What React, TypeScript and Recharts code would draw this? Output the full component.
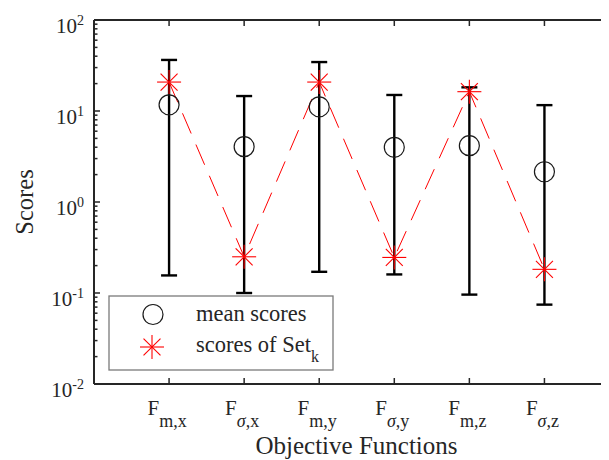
import React from 'react';
import { ComposedChart, XAxis, YAxis, Scatter, Line, ErrorBar, Legend } from 'recharts';

const subFirst = ['m', 'σ', 'm', 'σ', 'm', 'σ'];
const subSecond = ['x', 'x', 'y', 'y', 'z', 'z'];
const positions = [1, 2, 3, 4, 5, 6];
const meanScores = [11.7, 4.05, 11.1, 3.99, 4.16, 2.15];
const setKScores = [20.8, 0.25, 20.8, 0.246, 16.3, 0.182];
const upperScores = [36.4, 14.6, 34.5, 15.0, 18.2, 11.6];
const lowerScores = [0.156, 0.1, 0.171, 0.16, 0.096, 0.0745];
const yMajorTicks = [0.01, 0.1, 1, 10, 100];
const yMinorMultipliers = [2, 3, 4, 5, 6, 7, 8, 9];

const data = positions.map((x, i) => ({
  x,
  mean: meanScores[i],
  set: setKScores[i],
  err: [meanScores[i] - lowerScores[i], upperScores[i] - meanScores[i]],
}));

const yTicks: number[] = [];
yMajorTicks.forEach((t, i) => {
  yTicks.push(t);
  if (i < yMajorTicks.length - 1) yMinorMultipliers.forEach((m) => yTicks.push(+(t * m).toPrecision(3)));
});

const FONT = "'Liberation Serif', 'Times New Roman', serif";
const INK = '#262626';

const YTick = (props: any) => {
  const { x, y, payload } = props;
  const lv = Math.log10(payload.value);
  const e = Math.round(lv);
  const major = Math.abs(lv - e) < 1e-6;
  return (
    <g>
      <line x1={x} x2={x + (major ? 6 : 3.5)} y1={y} y2={y} stroke={INK} strokeWidth={1.5} />
      {major && (
        <text x={x - 10} y={y + 12.5} textAnchor="end" fontFamily={FONT} fill={INK} fontSize={21}>
          <tspan>10</tspan>
          <tspan dy={-8} fontSize={14}>{String(e)}</tspan>
        </text>
      )}
    </g>
  );
};

const XTick = (props: any) => {
  const { x, y, payload } = props;
  const i = positions.indexOf(payload.value);
  const a = subFirst[i];
  const b = subSecond[i];
  return (
    <g>
      <line x1={x} x2={x} y1={y} y2={y - 6} stroke={INK} strokeWidth={1.5} />
      <text x={x - 2} y={y + 31} textAnchor="middle" fontFamily={FONT} fill={INK} fontSize={21}>
        <tspan>F</tspan>
        <tspan dy={12} fontSize={18} fontStyle={a === 'σ' ? 'italic' : 'normal'}>{a}</tspan>
        <tspan fontSize={18}>{',' + b}</tspan>
      </text>
    </g>
  );
};

const TopTick = (props: any) => {
  const { x, y } = props;
  return <line x1={x} x2={x} y1={y} y2={y + 6} stroke={INK} strokeWidth={1.5} />;
};

const Asterisk = ({ cx, cy, r = 12 }: { cx: number; cy: number; r?: number }) => {
  const d = r * 0.7071;
  return (
    <g stroke="#ff0000" strokeWidth={1.1}>
      <line x1={cx - r} x2={cx + r} y1={cy} y2={cy} />
      <line x1={cx} x2={cx} y1={cy - r} y2={cy + r} />
      <line x1={cx - d} x2={cx + d} y1={cy - d} y2={cy + d} />
      <line x1={cx - d} x2={cx + d} y1={cy + d} y2={cy - d} />
    </g>
  );
};

const LegendBox = () => (
  <svg width={226} height={76} style={{ display: 'block' }}>
    <rect x={1} y={1} width={224} height={74} fill="#fff" stroke="#7a7a7a" strokeWidth={1.3} />
    <circle cx={45} cy={19.5} r={10} fill="none" stroke="#1a1a1a" strokeWidth={1.2} />
    <Asterisk cx={44} cy={52} />
    <text x={88} y={25.5} fontFamily={FONT} fontSize={22.5} fill={INK}>mean scores</text>
    <text x={88} y={57} fontFamily={FONT} fontSize={22.5} fill={INK}>
      <tspan>scores of Set</tspan>
      <tspan dy={9.5} fontSize={16}>k</tspan>
    </text>
  </svg>
);

export default function App() {
  return (
    <div style={{ width: 601, height: 452, background: '#fff', fontFamily: FONT }}>
      <ComposedChart width={601} height={452} data={data} margin={{ top: 0, right: 0, bottom: 0, left: 0 }}>
        <XAxis
          dataKey="x"
          type="number"
          domain={[0, 6.86]}
          allowDataOverflow
          ticks={positions}
          interval={0}
          height={76}
          tickSize={0}
          tickMargin={0}
          tickLine={false}
          tick={<XTick />}
          axisLine={{ stroke: INK, strokeWidth: 2 }}
          label={{
            content: () => (
              <text x={348.5} y={446} textAnchor="middle" fontFamily={FONT} fontSize={25} fill={INK}>
                Objective Functions
              </text>
            ),
          }}
        />
        <XAxis
          xAxisId="top"
          orientation="top"
          dataKey="x"
          type="number"
          domain={[0, 6.86]}
          allowDataOverflow
          ticks={positions}
          interval={0}
          height={12}
          tickSize={0}
          tickMargin={0}
          tickLine={false}
          tick={<TopTick />}
          axisLine={{ stroke: INK, strokeWidth: 2 }}
        />
        <YAxis
          type="number"
          scale="log"
          domain={[0.01, 100]}
          allowDataOverflow
          ticks={yTicks}
          interval={0}
          width={86}
          tickSize={0}
          tickMargin={0}
          tickLine={false}
          tick={<YTick />}
          axisLine={{ stroke: INK, strokeWidth: 2 }}
          label={{
            content: () => (
              <text
                x={25}
                y={194}
                textAnchor="middle"
                transform="rotate(-90 25 194)"
                fontFamily={FONT}
                fontSize={24.5}
                fill={INK}
              >
                Scores
              </text>
            ),
          }}
        />
        <Scatter
          data={data}
          dataKey="mean"
          isAnimationActive={false}
          shape={(p: any) => <circle cx={p.cx} cy={p.cy} r={10} fill="none" stroke="#1a1a1a" strokeWidth={1.2} />}
        >
          <ErrorBar dataKey="err" direction="y" width={8} stroke="#000" strokeWidth={2.4} isAnimationActive={false} />
        </Scatter>
        <Line
          dataKey="set"
          stroke="#ff0000"
          strokeWidth={1}
          strokeDasharray="22 12"
          isAnimationActive={false}
          dot={(p: any) => <Asterisk key={`s${p.index}`} cx={p.cx} cy={p.cy} />}
          activeDot={false}
        />
        <Legend
          layout="vertical"
          align="center"
          verticalAlign="middle"
          content={() => <LegendBox />}
          wrapperStyle={{ position: 'absolute', left: 99.5, top: 286.5, width: 226, height: 76 }}
        />
      </ComposedChart>
    </div>
  );
}
